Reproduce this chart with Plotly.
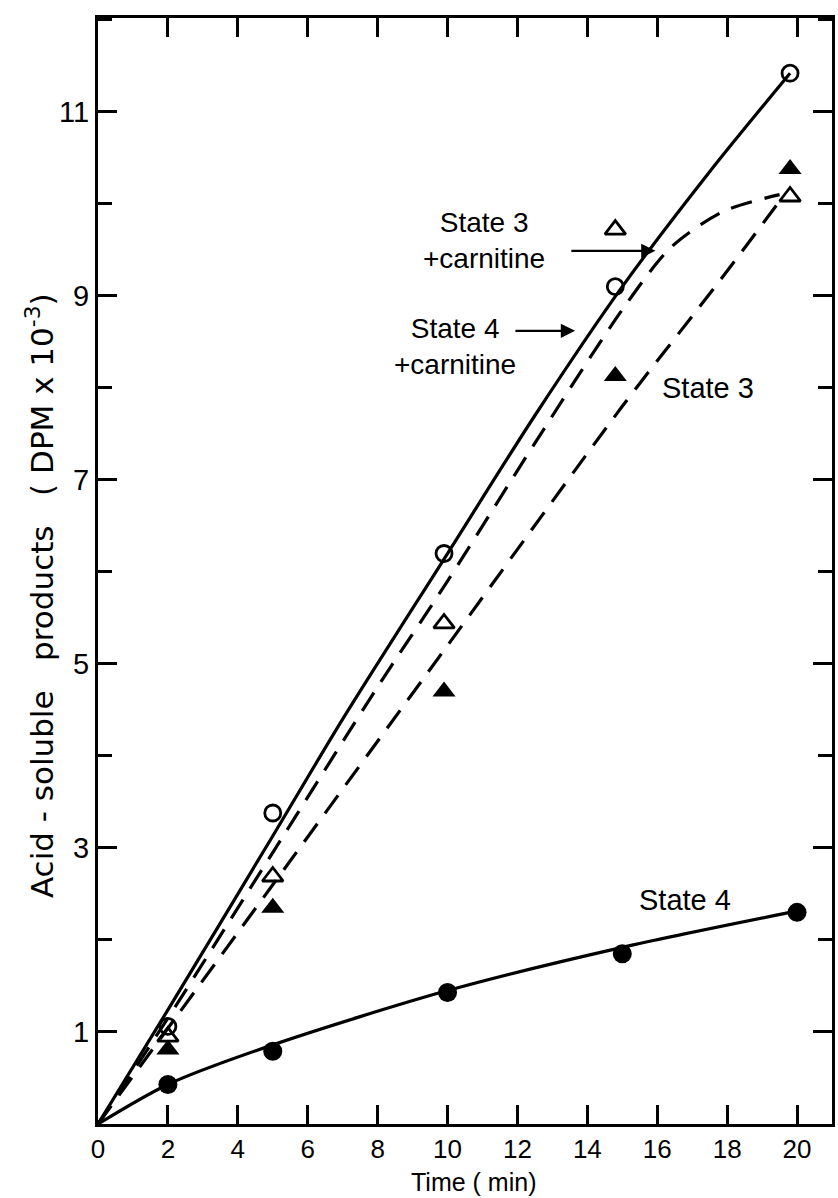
import plotly.graph_objects as go

# ---- measured data (time in min, acid-soluble products DPM x 10^-3) ----
t_s4c = [2, 5, 9.9, 14.8, 19.8]           # State 4 + carnitine (open circles)
y_s4c = [1.06, 3.38, 6.2, 9.1, 11.42]
t_s3c = [2, 5, 9.9, 14.8, 19.8]           # State 3 + carnitine (open triangles)
y_s3c = [0.95, 2.69, 5.44, 9.72, 10.08]
t_s3 = [2, 5, 9.9, 14.8, 19.8]            # State 3 (filled triangles)
y_s3 = [0.81, 2.35, 4.7, 8.13, 10.38]
t_s4 = [2, 5, 10, 15, 20]                 # State 4 (filled circles)
y_s4 = [0.43, 0.79, 1.43, 1.85, 2.3]

# hand-drawn fitted curves
cx_s4c = [0, 2, 5, 7, 10, 12.5, 15, 17.5, 19.8]
cy_s4c = [0, 1.24, 3.13, 4.4, 6.2, 7.7, 9.1, 10.35, 11.42]
cx_s3c = [0, 2, 5, 8, 10, 12.5, 15, 16.4, 17.9, 19.5]
cy_s3c = [0, 1.15, 2.95, 4.75, 5.9, 7.4, 8.85, 9.53, 9.92, 10.1]
cx_s3 = [0, 5, 10, 15, 17.8, 19.6]
cy_s3 = [0, 2.6, 5.2, 7.8, 9.17, 10.08]
cx_s4 = [0, 2, 5, 10, 15, 19.8]
cy_s4 = [0, 0.43, 0.86, 1.45, 1.92, 2.3]

x_ticks = [0, 2, 4, 6, 8, 10, 12, 14, 16, 18, 20]
y_ticks = [1, 3, 5, 7, 9, 11]

FONT = "Liberation Sans"
BLACK = "black"

fig = go.Figure()

def curve(x, y, dash):
    fig.add_trace(go.Scatter(x=x, y=y, mode="lines",
                             line=dict(color=BLACK, width=3.2, dash=dash,
                                       shape="spline", smoothing=0.8),
                             hoverinfo="skip", showlegend=False))

curve(cx_s4c, cy_s4c, "solid")
curve(cx_s3c, cy_s3c, "22px,13px")
curve(cx_s3, cy_s3, "22px,13px")
curve(cx_s4, cy_s4, "solid")

def pts(x, y, symbol, size, lw=2.8):
    fig.add_trace(go.Scatter(x=x, y=y, mode="markers",
                             marker=dict(symbol=symbol, size=size, color=BLACK,
                                         line=dict(color=BLACK, width=lw)),
                             showlegend=False))

pts(t_s4c, y_s4c, "circle-open", 16)
pts(t_s3c, y_s3c, "triangle-up-open", 18)
pts(t_s3, y_s3, "triangle-up", 20, 0)
pts(t_s4, y_s4, "circle", 19, 0)

def label(x, y, text, size=29):
    fig.add_annotation(x=x, y=y, xref="x", yref="y", text=text, showarrow=False,
                       font=dict(family=FONT, size=size, color=BLACK),
                       xanchor="center", yanchor="middle")

def arrow(x0, y0, x1, y1):
    fig.add_annotation(x=x1, y=y1, ax=x0, ay=y0, xref="x", yref="y",
                       axref="x", ayref="y", text="", showarrow=True,
                       arrowhead=2, arrowsize=1.3, arrowwidth=2.2, arrowcolor=BLACK)

label(11.05, 9.6, "State 3<br>+carnitine", 28)
arrow(13.5, 9.49, 15.95, 9.49)
label(10.2, 8.45, "State 4<br>+carnitine", 28)
arrow(11.9, 8.62, 13.65, 8.62)
label(17.45, 8.0, "State 3")
label(16.8, 2.43, "State 4")

# axis titles (paper coordinates)
fig.add_annotation(x=0.5115, y=-0.0525, xref="paper", yref="paper", text="Time ( min)",
                   showarrow=False, font=dict(family=FONT, size=25, color=BLACK),
                   xanchor="center", yanchor="middle")
fig.add_annotation(x=-0.078, y=0.478, xref="paper", yref="paper",
                   text="Acid - soluble   products   ( DPM x 10<sup>-3</sup>)",
                   textangle=-90, showarrow=False,
                   font=dict(family="DejaVu Sans", size=31, color=BLACK),
                   xanchor="center", yanchor="middle")

fig.update_xaxes(range=[0, 21.0], tickvals=x_ticks, ticktext=[str(v) for v in x_ticks],
                 ticks="inside", ticklen=19, tickwidth=3, tickcolor=BLACK,
                 showline=True, linewidth=3, linecolor=BLACK, mirror="ticks",
                 showgrid=False, zeroline=False,
                 tickfont=dict(family=FONT, size=26, color=BLACK))
fig.update_yaxes(range=[0, 12.02], tickvals=y_ticks, ticktext=[str(v) for v in y_ticks],
                 ticks="inside", ticklen=19, tickwidth=3, tickcolor=BLACK,
                 minor=dict(tickmode="linear", tick0=0, dtick=1, ticks="inside",
                            ticklen=14, tickwidth=3, tickcolor=BLACK),
                 showline=True, linewidth=3, linecolor=BLACK, mirror="ticks",
                 showgrid=False, zeroline=False,
                 tickfont=dict(family=FONT, size=29, color=BLACK))

fig.update_layout(width=838, height=1198, margin=dict(l=98, r=3, t=18, b=74),
                  plot_bgcolor="white", paper_bgcolor="white",
                  font=dict(family=FONT, color=BLACK), showlegend=False)

fig.write_html("out.html")
